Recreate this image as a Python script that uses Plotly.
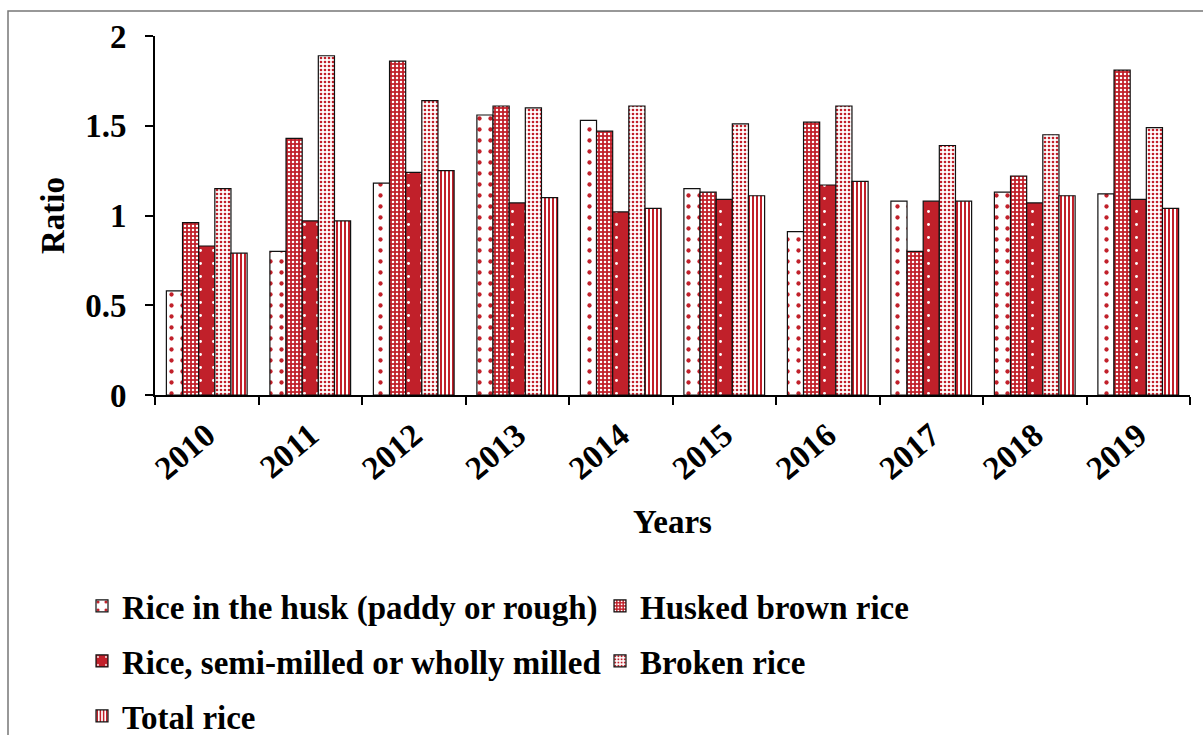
import plotly.graph_objects as go

years = ["2010", "2011", "2012", "2013", "2014", "2015", "2016", "2017", "2018", "2019"]
husk = [0.58, 0.80, 1.18, 1.56, 1.53, 1.15, 0.91, 1.08, 1.13, 1.12]
husked_brown = [0.96, 1.43, 1.86, 1.61, 1.47, 1.13, 1.52, 0.80, 1.22, 1.81]
semi_milled = [0.83, 0.97, 1.24, 1.07, 1.02, 1.09, 1.17, 1.08, 1.07, 1.09]
broken = [1.15, 1.89, 1.64, 1.60, 1.61, 1.51, 1.61, 1.39, 1.45, 1.49]
total = [0.79, 0.97, 1.25, 1.10, 1.04, 1.11, 1.19, 1.08, 1.11, 1.04]

names = ["Rice in the husk (paddy or rough)", "Husked brown rice",
         "Rice, semi-milled or wholly milled", "Broken rice", "Total rice"]
series = [husk, husked_brown, semi_milled, broken, total]
legend_ids = ["legend", "legend2", "legend3", "legend4", "legend5"]

RED = "#C1202A"
WHITE = "#FFFFFF"
patterns = [
    dict(shape=".", fgcolor=RED, bgcolor=WHITE, size=11, solidity=0.12, fillmode="replace"),
    dict(shape=".", fgcolor=WHITE, bgcolor=RED, size=4, solidity=0.3, fillmode="replace"),
    dict(shape=".", fgcolor=WHITE, bgcolor=RED, size=13, solidity=0.04, fillmode="replace"),
    dict(shape=".", fgcolor=RED, bgcolor=WHITE, size=4, solidity=0.35, fillmode="replace"),
    dict(shape="|", fgcolor=RED, bgcolor=WHITE, size=4, solidity=0.5, fillmode="replace"),
]
# legend entry placement (left x of entry, vertical centre), in pixels
legend_pos = [(82, 606), (600, 606), (82, 661), (600, 661), (82, 716)]

FONT = "Liberation Serif"

fig = go.Figure()
for name, vals, pat, lg in zip(names, series, patterns, legend_ids):
    fig.add_trace(go.Bar(
        x=years, y=vals, name=name, legend=lg,
        marker=dict(color=pat["bgcolor"], pattern=pat,
                    line=dict(color="#111111", width=1.2)),
    ))

W, H = 1203, 735
L, R, T, B = 155, 13, 36, 340
pw, ph = W - L - R, H - T - B


def legend_box(px, py):
    return dict(
        orientation="h", xref="container", yref="container",
        x=px / W, y=1 - py / H, xanchor="left", yanchor="middle",
        font=dict(family=FONT, size=33, color="black", weight="bold"),
        itemwidth=30, bgcolor="rgba(0,0,0,0)",
    )


legends = {lg: legend_box(*pos) for lg, pos in zip(legend_ids, legend_pos)}

fig.update_layout(
    width=W, height=H,
    margin=dict(l=L, r=R, t=T, b=B),
    paper_bgcolor="white", plot_bgcolor="white",
    barmode="group", bargap=0.22, bargroupgap=0,
    font=dict(family=FONT, color="black"),
    showlegend=True,
    shapes=[dict(type="rect", xref="paper", yref="paper",
                 x0=(8 - L) / pw, x1=(1250 - L) / pw,
                 y0=(H - B - 780) / ph, y1=(H - B - 11) / ph,
                 line=dict(color="#777777", width=1.5), fillcolor="rgba(0,0,0,0)",
                 layer="below")],
    **legends,
)

fig.update_xaxes(
    type="category", showline=True, linecolor="black", linewidth=2,
    ticks="outside", tickson="boundaries", ticklen=8, tickwidth=2, tickcolor="black",
    tickangle=-40, showgrid=False, ticklabelstandoff=6,
    tickfont=dict(family=FONT, size=33, color="black", weight="bold"),
    title=dict(text="<b>Years</b>", font=dict(family=FONT, size=33, color="black"), standoff=24),
)
fig.update_yaxes(
    range=[0, 2], dtick=0.5, tick0=0, showline=True, linecolor="black", linewidth=2,
    ticks="outside", ticklen=8, tickwidth=2, tickcolor="black", showgrid=False, zeroline=False,
    ticklabelstandoff=12,
    tickfont=dict(family=FONT, size=33, color="black", weight="bold"),
    title=dict(text="<b>Ratio</b>", font=dict(family=FONT, size=33, color="black"), standoff=11),
)

fig.write_html("out.html")
